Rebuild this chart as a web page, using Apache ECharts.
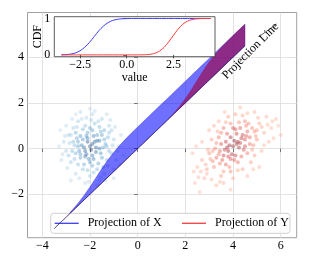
<!DOCTYPE html>
<html><head><meta charset="utf-8">
<script src="https://cdn.jsdelivr.net/npm/echarts@6/dist/echarts.min.js"></script>
<style>html,body{margin:0;padding:0;background:#fff}#c{width:317px;height:264px}</style>
</head><body><div id="c"></div>
<script>
const tVals = [-3.5,-3.25,-3.0,-2.75,-2.5,-2.25,-2.0,-1.75,-1.5,-1.25,-1.0,-0.75,-0.5,-0.25,0,0.25,0.5,0.75,1.0,1.25,1.5,1.75,2.0,2.25,2.5,2.75,3.0,3.25,3.5,3.75,4.0,4.25,4.5];
const cdfX = [0.002,0.008,0.022,0.053,0.113,0.21,0.34,0.50,0.66,0.79,0.887,0.947,0.978,0.992,0.998,1,1,1,1,1,1,1,1,1,1,1,1,1,1,1,1,1,1];
const cdfY = [0,0,0,0,0,0,0,0,0,0,0,0,0,0,0,0,0,0.001,0.004,0.015,0.042,0.101,0.207,0.357,0.536,0.707,0.841,0.927,0.972,0.991,0.998,1,1];
const bandHeight = 0.95;
const annotLine = [[5.09,4.9],[5.83,5.46]];
// scatter clusters [x, y, shade]
const pointsX = [[-2.0,0.1,0.9],[-1.8,0.3,0.8],[-2.2,-0.1,0.85],[-1.9,-0.3,0.7],[-2.3,0.4,0.6],[-1.6,0.0,0.75],[-2.5,0.1,0.5],[-1.7,0.6,0.55],[-2.1,0.7,0.5],[-2.4,-0.4,0.45],[-1.5,-0.4,0.5],[-2.0,-0.6,0.55],[-1.4,0.4,0.45],[-2.7,0.3,0.35],[-2.6,-0.2,0.4],[-1.3,0.1,0.4],[-2.2,1.0,0.3],[-1.8,1.1,0.3],[-1.2,0.7,0.25],[-2.8,-0.6,0.25],[-1.7,-0.9,0.35],[-2.3,-0.9,0.3],[-1.1,-0.2,0.3],[-2.9,0.6,0.2],[-1.5,1.3,0.2],[-2.5,1.2,0.2],[-3.0,-0.1,0.2],[-1.0,0.4,0.2],[-2.0,-1.2,0.2],[-1.4,-1.1,0.2],[-2.6,-1.1,0.15],[-3.1,0.3,0.15],[-0.9,-0.5,0.15],[-1.9,1.5,0.15],[-2.4,1.6,0.1],[-1.2,1.0,0.2],[-2.7,0.9,0.2],[-3.2,-0.5,0.1],[-0.8,0.1,0.1],[-1.6,-1.4,0.1],[-2.2,-1.5,0.1],[-1.9,0.2,0.95],[-2.1,0.3,0.9],[-1.95,-0.05,0.95],[-2.15,-0.25,0.8],[-1.75,0.05,0.85],[-1.6,0.35,0.7],[-2.35,0.15,0.7],[-1.85,0.55,0.7],[-2.05,-0.45,0.7],[-1.55,-0.2,0.6],[-2.45,-0.1,0.6],[-1.3,-0.5,0.3],[-2.9,-0.3,0.25],[-1.1,0.8,0.2],[-2.6,0.7,0.4],[-1.4,0.8,0.4],[-2.0,0.9,0.45],[-1.65,-0.65,0.5],[-2.25,-0.7,0.45],[-1.0,-0.9,0.12],[-3.0,1.0,0.1],[-2.0,1.75,0.08],[-1.3,1.5,0.1],[-2.8,-1.4,0.08],[-1.7,-1.6,0.08],[-0.7,0.6,0.08],[-3.3,0.1,0.08],[-0.6,-0.3,0.06],[-2.4,0.55,0.6],[-1.5,0.6,0.55],[-2.2,-0.35,0.75],[-1.85,-0.45,0.7],[-1.35,0.2,0.45],[-2.55,0.45,0.45],[-2.75,-0.1,0.35],[-1.2,-0.1,0.35],[-1.9,0.8,0.5],[-2.3,0.85,0.35],[-1.6,0.95,0.35],[-2.5,-0.7,0.3],[-1.45,-0.8,0.3],
[-2.1,0.45,0.65],[-1.75,-0.15,0.8],[-2.4,-0.25,0.5],[-1.45,0.05,0.5],[-2.65,0.15,0.3],[-1.95,1.25,0.2],[-2.15,1.35,0.15],[-1.65,1.2,0.2],[-2.85,0.25,0.2],[-3.05,0.55,0.12],[-2.95,-0.85,0.12],[-1.25,-0.75,0.2],[-1.05,0.15,0.2],[-0.95,0.95,0.1],[-2.45,-1.3,0.1],[-1.85,-1.05,0.25],[-2.1,-0.95,0.3],[-1.55,-1.25,0.15],[-2.55,0.95,0.2],[-2.35,1.3,0.12],[-1.8,1.65,0.08],[-2.75,1.3,0.08],[-3.15,-0.25,0.1],[-0.85,-0.1,0.12],[-1.15,1.25,0.1],[-1.35,-1.4,0.08],[-2.05,-1.45,0.1],[-2.65,-0.45,0.3],[-1.25,0.5,0.35],[-2.8,0.6,0.2],[-1.7,0.35,0.75],[-2.25,0.05,0.8],[-1.9,-0.75,0.45],[-2.5,0.3,0.5],[-1.55,0.75,0.4],[-2.15,0.55,0.6],[-0.75,-0.7,0.06],[-3.25,0.8,0.05],[-1.0,-1.3,0.06],[-2.6,1.5,0.05]];
const pointsY = [[4.0,0.1,0.9],[4.2,0.3,0.85],[3.8,-0.1,0.85],[4.4,0.6,0.75],[3.6,-0.3,0.7],[4.1,-0.3,0.75],[3.9,0.5,0.8],[4.5,0.1,0.65],[3.5,0.2,0.6],[4.3,0.9,0.55],[3.7,-0.7,0.5],[4.7,0.5,0.5],[3.3,-0.4,0.45],[4.0,0.9,0.55],[4.2,-0.6,0.45],[3.4,0.5,0.4],[4.8,0.9,0.35],[3.2,-0.8,0.3],[4.6,-0.2,0.4],[3.0,-0.2,0.3],[5.0,0.4,0.3],[3.6,0.9,0.4],[4.5,1.2,0.35],[3.9,-1.0,0.3],[2.9,-0.9,0.2],[5.1,1.1,0.2],[4.9,-0.3,0.2],[3.1,0.4,0.2],[3.5,-1.2,0.2],[4.4,-0.9,0.2],[2.7,-0.5,0.15],[5.3,0.7,0.15],[3.8,1.4,0.2],[4.1,1.5,0.2],[2.8,-1.3,0.12],[5.4,1.4,0.1],[5.2,-0.1,0.12],[3.0,0.8,0.12],[4.6,-1.2,0.1],[3.3,-1.6,0.1],[5.6,0.9,0.08],[2.5,-0.8,0.08],[4.9,1.6,0.1],[3.4,1.2,0.12],[2.4,-1.5,0.06],[5.8,1.3,0.06],[6.0,0.6,0.05],[2.3,-0.2,0.05],[4.05,0.35,0.95],[3.85,0.15,0.9],[4.25,0.05,0.85],[3.95,-0.25,0.8],[4.35,0.45,0.75],[3.7,0.3,0.7],[4.15,0.65,0.7],[3.65,-0.05,0.7],[4.45,-0.05,0.6],[3.55,-0.5,0.55],[4.6,0.75,0.5],[3.75,0.65,0.55],[4.05,-0.5,0.55],[3.45,-0.1,0.5],[4.7,0.2,0.45],[3.25,0.0,0.35],[4.85,0.15,0.3],[3.15,-0.55,0.3],[4.55,1.0,0.35],[3.5,0.7,0.35],[4.25,1.15,0.3],[3.85,-0.8,0.35],[4.35,-0.35,0.45],[3.9,1.1,0.3],[4.75,-0.6,0.2],[3.2,1.0,0.12],[5.0,0.8,0.25],[2.95,-0.05,0.2],[4.0,-1.3,0.12],[5.5,0.3,0.1],[3.6,-1.5,0.1],[4.3,1.8,0.08],[2.7,0.3,0.08],[5.1,-0.8,0.08],[2.6,-1.9,0.05],[3.9,-1.8,0.05],
[4.15,0.2,0.9],[3.75,0.05,0.8],[4.3,0.25,0.75],[3.9,-0.45,0.6],[4.5,0.4,0.6],[3.45,-0.65,0.4],[4.65,1.1,0.3],[3.3,0.25,0.3],[4.95,0.55,0.25],[3.05,-0.45,0.2],[5.2,0.95,0.15],[2.85,-0.7,0.15],[5.45,1.05,0.1],[2.65,-1.0,0.1],[4.4,1.45,0.15],[3.6,-1.0,0.25],[4.8,-0.05,0.2],[3.35,0.75,0.15],[5.05,1.35,0.1],[2.9,-1.1,0.1],[4.2,-0.95,0.15],[3.7,1.15,0.15],[5.3,0.15,0.08],[3.1,-1.35,0.08],[5.65,1.2,0.06],[2.55,-1.25,0.06],[4.6,1.55,0.08],[3.45,-1.45,0.06],[5.9,1.0,0.05],[2.35,-1.0,0.05],[4.1,0.85,0.6],[3.8,-0.35,0.65],[4.55,0.55,0.55],[3.4,-0.25,0.4],[4.9,0.75,0.3],[3.15,-0.1,0.25],[5.7,0.45,0.05],[2.45,0.1,0.05],[4.85,-0.9,0.06],[3.65,1.6,0.06]];
const xTicks = [-4,-2,0,2,4,6];
const yTicks = [-2,0,2,4];
const insetXTicks = [-2.5,0,2.5];
const insetYTicks = [0,1];

const FONT = 'Liberation Serif';
const minus = s => String(s).replace('-', '\u2212');

function bandRender(cdf, fill, stroke){
  return function(params, api){
    if (params.dataIndex !== 0) return null;
    const pts = [];
    for (let i = 0; i < tVals.length; i++) pts.push(api.coord([tVals[i], tVals[i]]));
    for (let i = tVals.length - 1; i >= 0; i--) pts.push(api.coord([tVals[i], tVals[i] + bandHeight * cdf[i]]));
    return {type:'polygon', shape:{points:pts}, style:{fill:fill, stroke:stroke, lineWidth:0.5}};
  };
}

const chart = echarts.init(document.getElementById('c'), null, {renderer:'canvas'});
chart.setOption({
  animation:false,
  textStyle:{fontFamily:FONT},
  grid:[
    {left:27.5, right:20.3, top:12.5, bottom:26.3, show:true, borderColor:'#a0a0a0', borderWidth:1, backgroundColor:'transparent'},
    {left:54.3, top:16.7, width:160.7, height:40, show:true, borderColor:'#333', borderWidth:0.8, backgroundColor:'#fff', z:10}
  ],
  xAxis:[
    {type:'value', gridIndex:0, min:-4.62, max:6.67,
     axisLine:{show:false},
     axisTick:{show:true, customValues:xTicks, length:3.5, lineStyle:{color:'#555', width:0.8}},
     axisLabel:{customValues:xTicks, formatter:minus, fontSize:12, color:'#000', margin:2, fontFamily:FONT},
     splitLine:{show:true, lineStyle:{color:'#dcdcdc', width:0.8}}},
    {type:'value', gridIndex:1, min:-3.88, max:4.73, z:12,
     axisLine:{show:false},
     axisTick:{show:true, customValues:insetXTicks, length:3.5, lineStyle:{color:'#333', width:0.8}},
     axisLabel:{customValues:insetXTicks, formatter:v=>minus(v.toFixed(1)), fontSize:12, color:'#000', margin:2, fontFamily:FONT},
     splitLine:{show:false},
     name:'value', nameLocation:'middle', nameGap:15.5, nameMoveOverlap:false, nameTextStyle:{fontSize:12, color:'#000', fontFamily:FONT}}
  ],
  yAxis:[
    {type:'value', gridIndex:0, min:-3.9, max:5.96,
     axisLine:{show:false},
     axisTick:{show:true, customValues:yTicks, length:3.5, lineStyle:{color:'#555', width:0.8}},
     axisLabel:{customValues:yTicks, formatter:minus, fontSize:12, color:'#000', margin:3.5, fontFamily:FONT},
     splitLine:{show:true, lineStyle:{color:'#dcdcdc', width:0.8}}},
    {type:'value', gridIndex:1, min:-0.05, max:1.05, z:12,
     axisLine:{show:false},
     axisTick:{show:true, customValues:insetYTicks, length:3.5, lineStyle:{color:'#333', width:0.8}},
     axisLabel:{customValues:insetYTicks, formatter:v=>String(v), fontSize:12, color:'#000', margin:4, fontFamily:FONT},
     splitLine:{show:false},
     name:'CDF', nameLocation:'middle', nameGap:10, nameRotate:90, nameMoveOverlap:false, nameTextStyle:{fontSize:12, color:'#000', fontFamily:FONT}}
  ],
  visualMap:[
    {type:'continuous', show:false, seriesIndex:0, dimension:2, min:0, max:1, inRange:{color:['#c6dbef','#6baed6','#2171b5','#08306b']}},
    {type:'continuous', show:false, seriesIndex:1, dimension:2, min:0, max:1, inRange:{color:['#fcbba1','#fb6a4a','#cb181d','#67000d']}}
  ],
  legend:{
    left:50.7, top:213.3, orient:'horizontal', padding:[4,1,4,4], itemGap:20.3,
    icon:'rect', itemWidth:24, itemHeight:1.3,
    backgroundColor:'rgba(255,255,255,0.85)', borderColor:'#d0d0d0', borderWidth:1, borderRadius:3,
    textStyle:{fontSize:12, color:'#000', fontFamily:FONT, padding:[0,0,0,4]},
    data:['Projection of X','Projection of Y']
  },
  series:[
    {type:'scatter', name:'cluster X', xAxisIndex:0, yAxisIndex:0, data:pointsX, symbolSize:4, itemStyle:{opacity:0.38}, z:2, silent:true},
    {type:'scatter', name:'cluster Y', xAxisIndex:0, yAxisIndex:0, data:pointsY, symbolSize:4, itemStyle:{opacity:0.38}, z:2, silent:true},
    {type:'custom', name:'band X', xAxisIndex:0, yAxisIndex:0, z:3, clip:true,
     data:tVals.map((t,i)=>[t, t + bandHeight*cdfX[i]]),
     renderItem:bandRender(cdfX, 'rgba(0,0,255,0.56)', 'rgba(0,0,200,0.6)')},
    {type:'custom', name:'band Y', xAxisIndex:0, yAxisIndex:0, z:4, clip:true,
     data:tVals.map((t,i)=>[t, t + bandHeight*cdfY[i]]),
     renderItem:bandRender(cdfY, 'rgba(160,0,60,0.62)', 'rgba(140,0,60,0.3)')},
    {type:'line', name:'projection line', xAxisIndex:0, yAxisIndex:0, z:5, symbol:'none',
     data:tVals.map(t=>[t,t]), lineStyle:{color:'rgba(20,20,110,0.8)', width:0.7}},
    {type:'line', name:'annot', xAxisIndex:0, yAxisIndex:0, z:5, symbol:'none',
     data:annotLine, lineStyle:{color:'#222', width:0.7}},
    {type:'line', name:'Projection of X', xAxisIndex:1, yAxisIndex:1, z:13, symbol:'none', smooth:0.3,
     color:'#3c3cff', data:tVals.map((t,i)=>[t, cdfX[i]]), lineStyle:{color:'#3c3cff', width:1}},
    {type:'line', name:'Projection of Y', xAxisIndex:1, yAxisIndex:1, z:14, symbol:'none', smooth:0.3,
     color:'#ff3c3c', data:tVals.map((t,i)=>[t, cdfY[i]]), lineStyle:{color:'#ff3c3c', width:1}}
  ],
  graphic:[
    {type:'text', x:250.5, y:51, rotation:Math.PI/4, z:20,
     style:{text:'Projection Line', fontSize:12, fontFamily:FONT, fill:'#000', align:'center', verticalAlign:'middle'}}
  ]
});
</script>
</body></html>
